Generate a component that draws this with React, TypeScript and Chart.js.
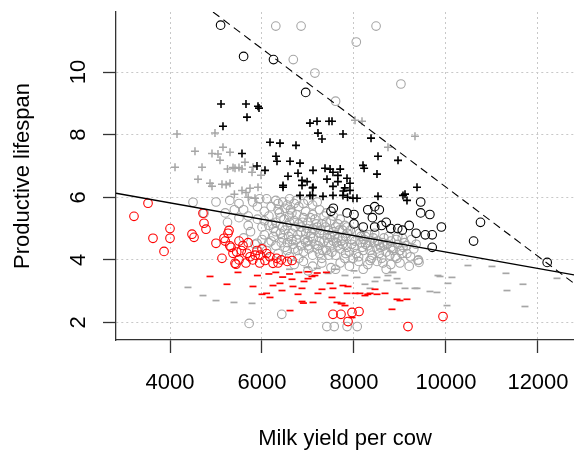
import React, { useEffect, useRef } from "react";
import { Chart, registerables } from "chart.js";

Chart.register(...registerables);

type P = [number, number];

const xTicks = [4000, 6000, 8000, 10000, 12000];
const yTicks = [2, 4, 6, 8, 10];
const xTitle = "Milk yield per cow";
const yTitle = "Productive lifespan";

const fitLineX = [2826, 12783];
const fitLineY = [6.13, 3.52];
const boundLineX = [4935, 12783];
const boundLineY = [11.92, 3.25];

const blackCircles: P[] = [
  [5100, 11.5], [5600, 10.5], [6250, 10.4], [6950, 9.35], [7500, 5.55], [7550, 5.65], [7850, 5.5],
  [8000, 5.15], [8000, 5.45], [8200, 5.05], [8300, 5.6], [8400, 5.35], [8450, 5.7], [8450, 5.05],
  [8550, 5.6], [8600, 5.1], [8700, 5.2], [8800, 5.0], [8950, 5.0], [9050, 4.95], [9200, 5.1],
  [9350, 4.85], [9450, 5.85], [9450, 5.5], [9550, 4.8], [9650, 5.45], [9700, 4.8], [9700, 4.4],
  [9900, 5.05], [10600, 4.6], [10750, 5.2], [12200, 3.92],
];

const grayCircles: P[] = [
  [6300, 11.47], [6850, 11.47], [6680, 10.4], [7150, 9.97], [7600, 9.07], [8050, 10.96], [8480, 11.47],
  [9020, 9.62], [5720, 1.97], [6430, 2.26], [7410, 1.87], [7570, 1.87], [7850, 1.87], [8070, 1.87],
  [4500, 5.84], [4740, 5.49],
  [5000, 5.85], [5300, 5.9], [5500, 5.8], [6100, 5.95], [6300, 5.9], [6450, 5.85], [6600, 5.95],
  [6750, 5.9], [6900, 5.8], [7100, 5.75],
  [5200, 5.5], [5600, 5.6], [5900, 5.7], [6050, 5.55], [6200, 5.7], [6350, 5.6], [6500, 5.65],
  [6650, 5.5], [6800, 5.7], [6950, 5.55], [7100, 5.45], [7250, 5.6], [7400, 5.5],
  [5250, 5.2], [5700, 5.1], [5900, 5.3], [6000, 5.05], [6150, 5.4], [6300, 5.2], [6400, 5.35],
  [6550, 5.1], [6600, 5.4], [6700, 5.25], [6850, 5.05], [6900, 5.35], [7000, 5.2], [7100, 5.0],
  [7150, 5.3], [7300, 5.15], [7350, 5.4], [7500, 5.25], [7600, 5.05], [7700, 5.3], [7800, 5.1],
  [5600, 4.7], [5850, 4.5], [6050, 4.8], [6200, 4.6], [6300, 4.9], [6450, 4.7], [6550, 4.55],
  [6650, 4.85], [6750, 4.65], [6850, 4.9], [6950, 4.55], [7050, 4.75], [7150, 4.95], [7250, 4.6],
  [7350, 4.8], [7450, 4.55], [7550, 4.9], [7650, 4.7], [7750, 4.5], [7850, 4.85], [7950, 4.65],
  [8050, 4.9], [8150, 4.55], [8250, 4.75], [8350, 4.6], [8450, 4.85], [8550, 4.5], [8650, 4.7],
  [8800, 4.6], [8950, 4.75], [9100, 4.55], [9250, 4.65],
  [6100, 4.3], [6350, 4.2], [6500, 4.4], [6600, 4.1], [6700, 4.35], [6800, 4.05], [6900, 4.25],
  [7000, 4.45], [7100, 4.15], [7200, 4.35], [7300, 4.05], [7400, 4.3], [7500, 4.45], [7600, 4.15],
  [7700, 4.35], [7800, 4.05], [7900, 4.25], [8000, 4.4], [8100, 4.1], [8200, 4.3], [8300, 4.45],
  [8400, 4.15], [8500, 4.35], [8600, 4.05], [8700, 4.25], [8800, 4.4], [8900, 4.1], [9000, 4.3],
  [9150, 4.2], [9300, 4.35], [9400, 4.0],
  [6700, 3.85], [6900, 3.95], [7100, 3.8], [7300, 3.9], [7500, 3.75], [7700, 3.9], [7900, 3.8],
  [8100, 3.95], [8300, 3.85], [8500, 3.95], [8630, 3.9], [8800, 3.85], [9000, 3.9], [9200, 3.8],
  [9413, 3.92],
  [6050, 5.25], [6250, 5.0], [6450, 5.05], [6500, 4.95], [6600, 5.2], [6750, 5.45], [6800, 5.15],
  [6950, 4.85], [7050, 5.35], [7200, 5.05], [7250, 4.85], [7400, 5.2], [7450, 4.95], [7550, 5.4],
  [7650, 5.15], [7750, 4.95], [7850, 5.05],
  [6150, 4.55], [6300, 4.45], [6400, 4.85], [6550, 4.3], [6650, 4.65], [6850, 4.45], [7000, 4.6],
  [7150, 4.5], [7250, 4.2], [7350, 4.6], [7450, 4.15], [7550, 4.6], [7650, 4.45], [7750, 4.7],
  [7850, 4.4], [7950, 4.5], [8050, 4.2], [8150, 4.75], [8250, 4.5], [8350, 4.3], [8450, 4.55],
  [8550, 4.2], [8650, 4.45], [8750, 4.75], [8850, 4.3], [8950, 4.5], [9050, 4.7], [9350, 4.5],
  [7000, 3.65], [7600, 3.7], [8200, 3.7], [8700, 3.7], [5400, 5.6], [5700, 5.4], [5800, 5.85],
  [5950, 5.95], [6350, 5.8], [6550, 5.75], [6700, 5.8], [7000, 5.9], [7200, 5.85], [5500, 5.35],
  [5750, 4.9], [6000, 4.65], [5891, 4.53], [9043, 4.2], [9391, 3.98], [9065, 4.4], [8848, 4.37],
  [8935, 4.05], [8348, 3.98],
  [6220, 5.15], [6380, 5.5], [6480, 5.3], [6620, 5.6], [6720, 5.05], [6780, 4.8], [6880, 5.2],
  [6980, 5.0], [7080, 4.85], [7180, 5.15], [7280, 4.95], [7380, 5.05], [7480, 4.75], [7580, 4.8],
  [7680, 4.95], [7720, 4.6], [7820, 4.75], [7920, 4.95], [8020, 4.6], [8120, 4.85], [8220, 4.65],
  [8320, 4.8], [8420, 4.7], [8520, 4.6], [8620, 4.55], [8720, 4.5], [8920, 4.65], [9150, 4.45],
  [6420, 4.55], [6580, 4.75], [6680, 4.5], [6780, 4.3], [6920, 4.65], [7020, 4.35], [7120, 4.7],
  [7220, 4.45], [7320, 4.3], [7420, 4.7], [7520, 4.25], [7620, 4.55], [7820, 4.2], [7980, 4.05],
  [8180, 4.4], [8380, 4.05], [8580, 4.4], [8780, 4.15], [9230, 4.1], [6250, 4.75], [6150, 5.1],
];

const redCircles: P[] = [
  [3217, 5.39], [3522, 5.81], [3630, 4.69], [3870, 4.27], [4000, 5.0], [4000, 4.69], [4478, 4.82],
  [4522, 4.72], [4717, 5.49], [4739, 5.17], [4783, 4.98], [5000, 4.53], [5130, 4.05], [5174, 4.69],
  [5261, 4.85], [5283, 4.94], [5326, 4.4], [5413, 3.89],
  [5370, 4.21], [5435, 3.86], [5587, 4.46], [5674, 4.21], [5740, 4.1], [5891, 4.3], [5960, 4.15],
  [6065, 3.98], [6170, 4.1], [6239, 3.89], [6320, 4.05], [6420, 4.0], [6652, 3.98], [5500, 4.0],
  [5800, 4.0], [5650, 3.9], [5950, 3.9], [6100, 4.2], [6000, 4.35], [5550, 4.3], [6350, 3.9],
  [6550, 3.95], [5850, 4.15], [5450, 4.25], [5700, 4.55], [5500, 4.6], [5300, 4.45], [5200, 4.6],
  [7543, 2.26], [7717, 2.26], [7957, 2.32], [8109, 2.35], [7870, 2.03], [9174, 1.87], [9935, 2.19],
];

const blackPluses: P[] = [
  [5109, 8.98], [5652, 8.98], [5913, 8.91], [5935, 8.85], [5674, 8.56], [5152, 8.27], [7043, 8.37],
  [7196, 8.43], [7457, 8.43], [7522, 8.43], [7217, 8.05], [7761, 8.02], [7304, 7.86], [6174, 7.76],
  [6391, 7.73], [6739, 7.66], [8370, 7.89], [5565, 7.4], [6304, 7.31], [8522, 7.31], [6326, 7.15],
  [6609, 7.15], [6826, 7.09], [8957, 7.18], [5891, 7.0], [8196, 7.02], [8220, 6.93], [6065, 6.86],
  [7109, 6.86], [7370, 6.93], [7480, 6.9], [7543, 6.8], [6565, 6.67], [6783, 6.77], [6870, 6.54],
  [6980, 6.5], [8500, 6.74], [7848, 6.61], [7413, 6.58], [7913, 6.45], [6457, 6.32], [7109, 6.32],
  [7543, 6.35], [9370, 6.32], [7913, 6.22], [6457, 6.38], [6870, 6.38], [7100, 6.3], [7770, 6.2],
  [9109, 6.1], [7043, 6.06], [7326, 6.03], [6826, 6.06], [7100, 6.06], [7543, 6.06], [7760, 6.06],
  [7860, 6.0], [7978, 5.97], [8065, 5.97], [8522, 6.03], [9065, 6.06], [9152, 5.9], [7650, 6.5],
  [7650, 6.7], [7700, 6.9], [7800, 6.3],
];

const grayPluses: P[] = [
  [4152, 8.02], [4978, 8.05], [4543, 7.47], [4913, 7.4], [5043, 7.38], [5152, 7.6], [5304, 7.44],
  [5087, 7.18], [4109, 6.96], [4696, 6.96], [5413, 6.93], [5370, 6.95], [5565, 6.9], [5783, 6.8],
  [4609, 6.58], [4913, 6.35], [5130, 6.42], [5304, 6.45], [5565, 6.22], [5739, 6.29], [5913, 6.32],
  [5978, 6.7], [8022, 8.46], [8174, 8.43], [8739, 7.6], [9326, 7.95], [4870, 6.45], [5220, 6.4],
  [5652, 6.15], [5848, 5.97], [5630, 7.12], [5804, 6.96], [5700, 6.0], [5400, 6.1], [5500, 6.95],
  [5250, 6.9],
];

const redDashes: P[] = [
  [4870, 3.47], [5478, 3.6], [5239, 3.22], [5804, 3.15], [6000, 2.9], [6174, 2.8], [6239, 3.18],
  [6391, 3.25], [6435, 3.02], [6652, 3.38], [6674, 3.15], [6783, 2.9], [6870, 3.09], [6870, 2.67],
  [6900, 2.62], [6913, 3.31], [7000, 3.4], [7087, 3.47], [7150, 3.5], [7109, 2.64], [7217, 2.93],
  [7304, 3.06], [7478, 3.25], [7543, 3.09], [7522, 2.8], [7630, 2.64], [7739, 2.61], [7804, 2.54],
  [7761, 3.18], [7870, 3.15], [7850, 2.93], [8022, 2.93], [7957, 2.16], [8239, 2.86], [8350, 2.93],
  [8457, 3.06], [8500, 2.9], [8674, 2.93], [8826, 2.42], [9000, 2.7], [9152, 2.74], [6609, 2.38],
  [6100, 2.93], [8130, 2.93], [8300, 2.9], [8935, 2.74], [7720, 2.6], [5900, 3.5], [6150, 3.55],
  [6300, 3.6], [6450, 3.45], [6600, 3.55], [6800, 3.6], [7000, 3.62], [7200, 3.58], [7400, 3.6],
];

const grayDashes: P[] = [
  [4391, 3.12], [4717, 2.86], [5000, 2.7], [5391, 2.64], [5783, 2.61], [6978, 3.76], [7200, 3.73],
  [7435, 3.57], [7804, 3.5], [8239, 3.22], [8457, 3.31], [8739, 3.5], [8848, 3.6], [8935, 3.4],
  [9326, 3.09], [9652, 2.99], [9826, 3.5], [10130, 3.44], [8348, 3.09], [10478, 3.82], [11000, 3.79],
  [11304, 3.57], [11674, 3.22], [11717, 2.51], [12413, 3.41], [11326, 3.02], [9870, 3.47],
  [10043, 3.25], [9109, 3.09], [9370, 3.09], [8717, 3.34], [8826, 3.6], [8065, 3.44], [8500, 3.44],
  [8978, 3.25], [9804, 2.96], [10022, 2.54], [7600, 3.7], [8000, 3.65], [6600, 3.7],
];

const GRAY = "#a6a6a6";
const FONT = '22px "Liberation Sans", Arial, sans-serif';

const pts = (a: P[]) => a.map(([x, y]) => ({ x, y }));
const linePts = (xs: number[], ys: number[]) => xs.map((x, i) => ({ x, y: ys[i] }));

const textPlugin = {
  id: "rtext",
  afterDraw(chart: any) {
    const ctx = chart.ctx;
    const xs = chart.scales.x;
    const ys = chart.scales.y;
    const area = chart.chartArea;
    ctx.save();
    ctx.font = FONT;
    ctx.fillStyle = "#000";
    ctx.textAlign = "center";
    ctx.textBaseline = "alphabetic";
    xTicks.forEach((v) => ctx.fillText(String(v), xs.getPixelForValue(v), 389));
    ctx.fillText(xTitle, (area.left + area.right) / 2, 445);
    yTicks.forEach((v) => {
      ctx.save();
      ctx.translate(85, ys.getPixelForValue(v));
      ctx.rotate(-Math.PI / 2);
      ctx.fillText(String(v), 0, 0);
      ctx.restore();
    });
    ctx.save();
    ctx.translate(29, (area.top + area.bottom) / 2);
    ctx.rotate(-Math.PI / 2);
    ctx.fillText(yTitle, 0, 0);
    ctx.restore();
    ctx.restore();
  },
};

export default function App() {
  const ref = useRef<HTMLCanvasElement>(null);
  useEffect(() => {
    if (!ref.current) return;
    const scatter = (data: P[], style: string, color: string, radius: number, bw: number) => ({
      type: "scatter" as const,
      data: pts(data),
      pointStyle: style,
      pointRadius: radius,
      borderColor: color,
      backgroundColor: "rgba(0,0,0,0)",
      borderWidth: bw,
      showLine: false,
    });
    const gridOpts = {
      color: "#c8c8c8",
      lineWidth: 1,
      tickLength: 13,
      tickColor: "#333",
      tickWidth: 1.3,
      tickBorderDash: [],
    } as any;
    const borderOpts = { display: true, color: "#333", width: 1.3, dash: [2, 3] } as any;
    const chart = new Chart(ref.current, {
      type: "scatter",
      data: {
        datasets: [
          {
            type: "line",
            data: linePts(fitLineX, fitLineY),
            borderColor: "#000",
            borderWidth: 1.4,
            pointRadius: 0,
            fill: false,
          } as any,
          {
            type: "line",
            data: linePts(boundLineX, boundLineY),
            borderColor: "#000",
            borderWidth: 1.1,
            borderDash: [8, 5],
            pointRadius: 0,
            fill: false,
          } as any,
          scatter(blackCircles, "circle", "#000", 4.3, 1.1),
          scatter(blackPluses, "cross", "#000", 4, 1.6),
          scatter(redCircles, "circle", "#ff0000", 4.3, 1.1),
          scatter(redDashes, "line", "#ff0000", 3.5, 1.7),
          scatter(grayPluses, "cross", GRAY, 4, 1.5),
          scatter(grayDashes, "line", GRAY, 3.5, 1.7),
          scatter(grayCircles, "circle", GRAY, 4.3, 1.1),
        ],
      },
      options: {
        responsive: false,
        animation: false,
        events: [],
        layout: { autoPadding: false, padding: { top: 12, right: 0, left: 0, bottom: 0 } },
        plugins: { legend: { display: false }, tooltip: { enabled: false } },
        scales: {
          x: {
            type: "linear",
            min: 2826,
            max: 12783,
            afterBuildTicks: (s: any) => {
              s.ticks = xTicks.map((v) => ({ value: v }));
            },
            afterFit: (s: any) => {
              s.height = 110;
            },
            ticks: { display: false },
            grid: gridOpts,
            border: borderOpts,
          },
          y: {
            type: "linear",
            min: 1.44,
            max: 11.92,
            afterBuildTicks: (s: any) => {
              s.ticks = yTicks.map((v) => ({ value: v }));
            },
            afterFit: (s: any) => {
              s.width = 116;
            },
            ticks: { display: false },
            grid: gridOpts,
            border: borderOpts,
          },
        },
      },
      plugins: [textPlugin],
    } as any);
    return () => chart.destroy();
  }, []);
  return (
    <div style={{ position: "fixed", left: 0, top: 0, width: 574, height: 450, background: "#fff" }}>
      <canvas ref={ref} width={574} height={450} style={{ width: 574, height: 450 }} />
    </div>
  );
}
